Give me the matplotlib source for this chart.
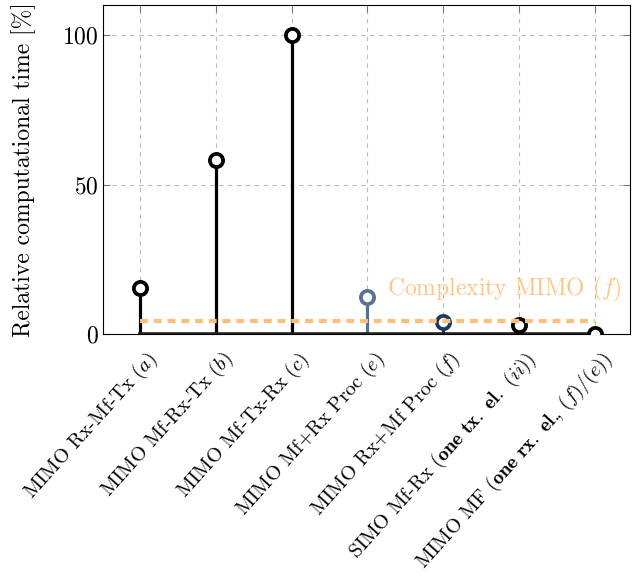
import numpy as np
import matplotlib.pyplot as plt
import matplotlib.transforms as mtransforms

plt.rcParams['font.family'] = 'cmr10'
plt.rcParams['mathtext.fontset'] = 'cm'
plt.rcParams['axes.formatter.use_mathtext'] = True

labels = [r'MIMO Rx-Mf-Tx $(a)$',
          r'MIMO Mf-Rx-Tx $(b)$',
          r'MIMO Mf-Tx-Rx $(c)$',
          r'MIMO Mf+Rx Proc $(e)$',
          r'MIMO Rx+Mf Proc $(f)$',
          r'SIMO Mf-Rx ($\mathbf{one\ tx.\ el.}$ $(ii)$)',
          r'MIMO MF ($\mathbf{one\ rx.\ el.}\!\!\mathbf{,}$ $(f)/(e)$)']
values = [15.5, 58.2, 100.0, 12.4, 4.0, 3.0, 0.0]
colors = ['black', 'black', 'black', '#5A7196', '#1E3764', 'black', 'black']
mimo_f_level = 4.3

fig = plt.figure(figsize=(6.41, 5.83), dpi=100)
ax = fig.add_axes([0.161, 0.427, 0.822, 0.564])

x = np.arange(len(values))
for xi, v, c in zip(x, values, colors):
    ax.plot([xi, xi], [0, v], color=c, lw=2.3, zorder=3, solid_capstyle='butt')
    ax.plot(xi, v, 'o', ms=9.5, mfc='white', mec=c, mew=2.7, zorder=4)
ax.plot([x[0], x[-1]], [0, 0], color='#222222', lw=2.6, zorder=3)

# complexity reference line
ax.plot([x[0], x[-1]], [mimo_f_level, mimo_f_level], color='#FDC07A', lw=3,
        ls=(0, (1.9, 1.4)), zorder=5)
ax.text(6.36, 15, r'Complexity MIMO $(f)$', color='#FFC787', ha='right',
        va='center', fontsize=17)

ax.set_xlim(-0.49, 6.47)
ax.set_ylim(0, 110)
ax.set_yticks([0, 50, 100])
ax.set_xticks(x)
ax.set_xticklabels(labels, rotation=48, ha='right', va='center',
                   rotation_mode='anchor', fontsize=14.5)
ax.tick_params(axis='x', pad=0)
ax.tick_params(axis='y', labelsize=17)
ax.tick_params(direction='in', length=5, color='#777777', top=True, right=True)
offset = mtransforms.ScaledTranslation(0.14, -0.22, fig.dpi_scale_trans)
for lab in ax.get_xticklabels():
    lab.set_transform(lab.get_transform() + offset)
ax.grid(True, color='#BBBBBB', ls=(0, (4, 4)), lw=0.8)
ax.set_axisbelow(True)
ax.set_ylabel('Relative computational time [%]', fontsize=17)
ax.yaxis.set_label_coords(-0.128, 0.5)

fig.savefig('out.png', dpi=100)
